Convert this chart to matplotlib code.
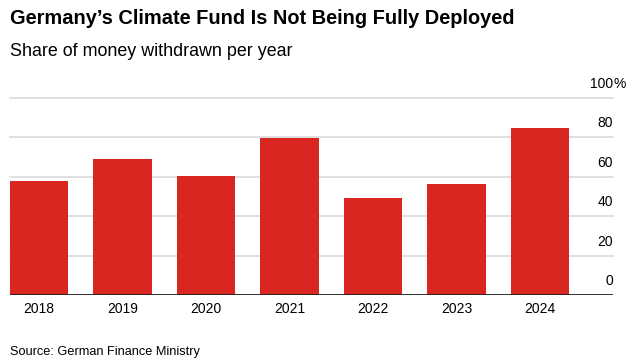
import matplotlib
matplotlib.use('Agg')
import matplotlib.pyplot as plt
import matplotlib.transforms as mtransforms

# data
years = ['2018', '2019', '2020', '2021', '2022', '2023', '2024']
share = [57.9, 69.2, 60.4, 79.7, 49.2, 56.3, 85.0]
yticks = [0, 20, 40, 60, 80, 100]
ytick_labels = ['0', '20', '40', '60', '80', '100%']

plt.rcParams['font.family'] = ['Liberation Sans', 'DejaVu Sans']

W, H = 635, 362
fig = plt.figure(figsize=(W / 100, H / 100), dpi=100)

# axes in pixel units: x 10..613, y 98..295 (from top)
ax = fig.add_axes([10 / W, (H - 295) / H, 603 / W, 197 / H])

x = range(len(years))
ax.bar(x, share, width=0.7, color='#da2620', zorder=2)
ax.set_xlim(-0.35, 6.874)
ax.set_ylim(0, 100)

for s in ax.spines.values():
    s.set_visible(False)
ax.set_yticks([])
ax.set_xticks(list(x))
ax.set_xticklabels(years, fontsize=10)
ax.tick_params(axis='x', length=0, pad=5)

for v in yticks[1:]:
    ax.axhline(v, color='#dddddd', lw=1.3, zorder=1, clip_on=False)
ax.axhline(0, color='#222222', lw=1.3, zorder=3)

trans = mtransforms.offset_copy(ax.get_yaxis_transform(), fig=fig, x=0, y=5, units='points')
for v, lab in zip(yticks, ytick_labels):
    if lab.endswith('%'):
        ax.text(1.0, v, lab[:-1], transform=trans, ha='right', va='bottom', fontsize=10)
        ax.text(1.0, v, '%', transform=trans, ha='left', va='bottom', fontsize=10)
    else:
        ax.text(1.0, v, lab, transform=trans, ha='right', va='bottom', fontsize=10)

fig.text(10 / W, 1 - 18 / H, "Germany\u2019s Climate Fund Is Not Being Fully Deployed",
         fontsize=14.4, fontweight='bold', ha='left', va='center')
fig.text(10 / W, 1 - 51 / H, "Share of money withdrawn per year",
         fontsize=12.9, ha='left', va='center')
fig.text(10 / W, 1 - 352 / H, "Source: German Finance Ministry",
         fontsize=9.2, ha='left', va='center')

fig.savefig('out.png', dpi=100)
